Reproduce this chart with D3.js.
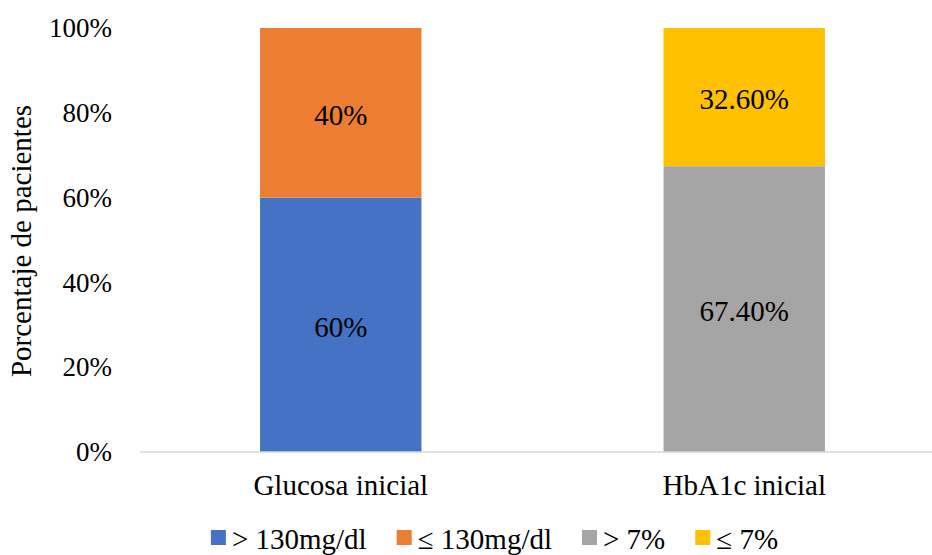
<!DOCTYPE html>
<html>
<head>
<meta charset="utf-8">
<script src="https://cdn.jsdelivr.net/npm/d3@7"></script>
<style>
  html, body { margin: 0; padding: 0; background: #fff; }
</style>
</head>
<body>
<svg id="chart" width="932" height="555"></svg>
<script>
// Categories and stacked shares (percent of patients)
const categories = ["Glucosa inicial", "HbA1c inicial"];
const seriesNames = ["> 130mg/dl", "≤ 130mg/dl", "> 7%", "≤ 7%"];
const seriesColors = ["#4472C4", "#ED7D31", "#A5A5A5", "#FFC000"];
// value of each series per category (0 where the series does not apply)
const glucosaValues = [60, 40, 0, 0];
const hba1cValues = [0, 0, 67.4, 32.6];
const valueLabels = [["60%", "40%", "", ""], ["", "", "67.40%", "32.60%"]];
const yTicks = [0, 20, 40, 60, 80, 100];
const yTitle = "Porcentaje de pacientes";

const FONT = "Liberation Serif";
const svg = d3.select("#chart");
const x = d3.scaleBand().domain(categories).range([139, 946]).paddingInner(0.6).paddingOuter(0.3);
const y = d3.scaleLinear().domain([0, 100]).range([452, 28]);

function styleText(sel, size) {
  sel.style("font-family", FONT).style("font-size", size + "px").attr("fill", "#000");
}

const rows = categories.map((c, i) => {
  const vals = i === 0 ? glucosaValues : hba1cValues;
  const r = { category: c };
  seriesNames.forEach((s, j) => r[s] = vals[j]);
  return r;
});
const stack = d3.stack().keys(seriesNames)(rows);

// Bars
stack.forEach((layer, si) => {
  svg.append("g").selectAll("rect")
    .data(layer.filter(d => d[1] - d[0] > 0))
    .join("rect")
    .attr("x", d => x(d.data.category))
    .attr("width", x.bandwidth())
    .attr("y", d => y(d[1]))
    .attr("height", d => y(d[0]) - y(d[1]))
    .attr("fill", seriesColors[si]);
});

// Value labels in the middle of each segment
stack.forEach((layer, si) => {
  layer.forEach((d, ci) => {
    if (d[1] - d[0] <= 0) return;
    svg.append("text")
      .attr("x", x(d.data.category) + x.bandwidth() / 2)
      .attr("y", (y(d[0]) + y(d[1])) / 2 + 2)
      .attr("dy", "0.35em")
      .attr("text-anchor", "middle")
      .call(styleText, 29)
      .text(valueLabels[ci][si]);
  });
});

// Baseline
svg.append("line")
  .attr("x1", 140).attr("x2", 932)
  .attr("y1", y(0)).attr("y2", y(0))
  .attr("stroke", "#D9D9D9").attr("stroke-width", 1.5);

// Y axis tick labels
const yAxis = d3.axisLeft(y).tickValues(yTicks).tickFormat(d => d + "%").tickSize(0).tickPadding(0);
const gy = svg.append("g").attr("transform", "translate(112,0)").call(yAxis);
gy.select(".domain").remove();
gy.selectAll("text").call(styleText, 27);

// X axis category labels
const xAxis = d3.axisBottom(x).tickSize(0).tickPadding(0);
const gx = svg.append("g").attr("transform", "translate(0,474)").call(xAxis);
gx.select(".domain").remove();
gx.selectAll("text").call(styleText, 29);

// Y axis title
svg.append("text")
  .attr("transform", "translate(31,241) rotate(-90)")
  .attr("text-anchor", "middle")
  .call(styleText, 29)
  .text(yTitle);

// Legend
const legend = svg.append("g");
let lx = 0;
seriesNames.forEach((name, i) => {
  const g = legend.append("g");
  g.append("rect").attr("x", 0).attr("y", -7.5).attr("width", 15).attr("height", 15).attr("fill", seriesColors[i]);
  const t = g.append("text").attr("x", 21).attr("y", 1).attr("dy", "0.35em").call(styleText, 29).text(name);
  const w = 21 + t.node().getComputedTextLength();
  g.attr("transform", `translate(${lx},0)`);
  lx += w + 30;
});
const totalW = lx - 30;
legend.attr("transform", `translate(${494.5 - totalW / 2},537.5)`);
</script>
</body>
</html>
